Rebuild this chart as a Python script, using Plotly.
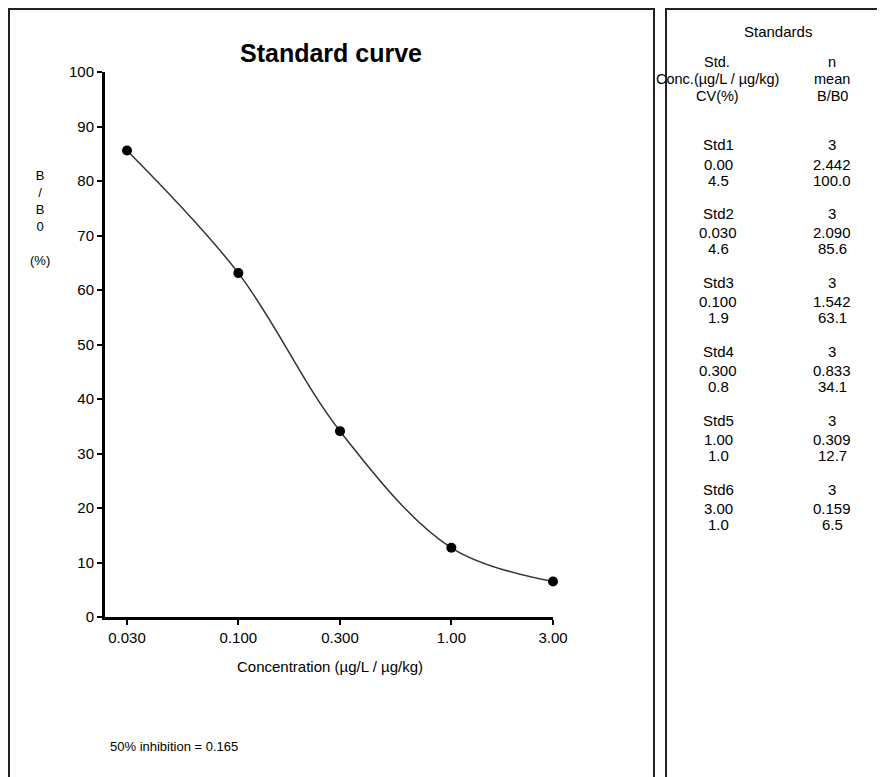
import numpy as np
import plotly.graph_objects as go

# ---- data ----
conc = [0.03, 0.1, 0.3, 1.0, 3.0]
bb0 = [85.6, 63.1, 34.1, 12.7, 6.5]
x_tick_vals = [0.03, 0.1, 0.3, 1.0, 3.0]
x_tick_text = ["0.030", "0.100", "0.300", "1.00", "3.00"]
y_tick_vals = [0, 10, 20, 30, 40, 50, 60, 70, 80, 90, 100]

std_names = ["Std1", "Std2", "Std3", "Std4", "Std5", "Std6"]
std_conc = ["0.00", "0.030", "0.100", "0.300", "1.00", "3.00"]
std_cv = ["4.5", "4.6", "1.9", "0.8", "1.0", "1.0"]
std_n = ["3", "3", "3", "3", "3", "3"]
std_mean = ["2.442", "2.090", "1.542", "0.833", "0.309", "0.159"]
std_bb0 = ["100.0", "85.6", "63.1", "34.1", "12.7", "6.5"]
inhibition50 = "0.165"

# ---- layout geometry (pixels, page has an 8px body margin) ----
OFF = 8
W, H = 885 - OFF, 777 - OFF
L, R, T, B = 105 - OFF, 553 - OFF, 72 - OFF, 617 - OFF
FONT = "Liberation Sans, Arial, sans-serif"


def px(x):
    return (x - OFF - L) / (R - L)


def py(y):
    return (B - (y - OFF)) / (B - T)


fig = go.Figure()
fig.add_trace(go.Scatter(
    x=conc, y=bb0, mode="lines",
    line=dict(color="#333333", width=1.5, shape="spline", smoothing=1.0),
    hoverinfo="skip", showlegend=False, cliponaxis=False,
))
fig.add_trace(go.Scatter(
    x=conc, y=bb0, mode="markers",
    marker=dict(color="black", size=10),
    showlegend=False, cliponaxis=False,
))

dec = (np.log10(3.0) - np.log10(0.03)) / (553 - 127)
xr = [np.log10(0.03) - (127 - 105) * dec, np.log10(3.0)]

fig.update_xaxes(
    type="log", range=xr, tickvals=x_tick_vals, ticktext=x_tick_text,
    showline=True, linecolor="black", linewidth=3, ticks="outside",
    ticklen=5, tickwidth=2, tickcolor="black", showgrid=False, zeroline=False,
    tickfont=dict(family=FONT, size=15, color="black"),
)
fig.update_yaxes(
    range=[0, 100], tickvals=y_tick_vals,
    showline=True, linecolor="black", linewidth=3, ticks="outside",
    ticklen=5, tickwidth=2, tickcolor="black", showgrid=False, zeroline=False,
    tickfont=dict(family=FONT, size=15, color="black"),
)

ann = []
ann.append(dict(text="<b>Standard curve</b>", x=px(331), y=py(53),
                font=dict(size=25)))
ann.append(dict(text="Concentration (µg/L / µg/kg)", x=px(330), y=py(666),
                font=dict(size=15)))
ann.append(dict(text="B<br>/<br>B<br>0<br><br>(%)", x=px(40), y=py(218),
                font=dict(size=13)))
ann.append(dict(text="50% inhibition = " + inhibition50, x=px(108), y=py(746),
                xanchor="left", font=dict(size=13)))

# right table
FS = 15
ann.append(dict(text="Standards", x=px(778), y=py(31), font=dict(size=FS)))
for txt, yy in zip(["Std.", "Conc.(µg/L / µg/kg)", "CV(%)"], [62, 79, 96]):
    ann.append(dict(text=txt, x=px(717), y=py(yy), font=dict(size=14.5)))
for txt, yy in zip(["n", "mean", "B/B0"], [62, 79, 96]):
    ann.append(dict(text=txt, x=px(832), y=py(yy), font=dict(size=14.5)))

for i in range(len(std_names)):
    y0 = 145 + i * 68.8
    ann.append(dict(text=std_names[i], x=px(718), y=py(y0), font=dict(size=FS)))
    ann.append(dict(text=std_conc[i], x=px(718), y=py(y0 + 19), font=dict(size=FS)))
    ann.append(dict(text=std_cv[i], x=px(718), y=py(y0 + 35), font=dict(size=FS)))
    ann.append(dict(text=std_n[i], x=px(832), y=py(y0), font=dict(size=FS)))
    ann.append(dict(text=std_mean[i], x=px(832), y=py(y0 + 19), font=dict(size=FS)))
    ann.append(dict(text=std_bb0[i], x=px(832), y=py(y0 + 35), font=dict(size=FS)))

for a in ann:
    a.setdefault("xanchor", "center")
    a["yanchor"] = "middle"
    a["xref"] = "paper"
    a["yref"] = "paper"
    a["showarrow"] = False
    f = a.get("font", {})
    f.setdefault("family", FONT)
    f.setdefault("color", "black")
    a["font"] = f

shapes = [
    dict(type="rect", xref="paper", yref="paper",
         x0=px(9), x1=px(654), y0=py(800), y1=py(9),
         line=dict(color="#222222", width=2)),
    dict(type="rect", xref="paper", yref="paper",
         x0=px(666), x1=px(900), y0=py(800), y1=py(9),
         line=dict(color="#222222", width=2)),
]

fig.update_layout(
    width=W, height=H,
    margin=dict(l=L, r=W - R, t=T, b=H - B, pad=0),
    paper_bgcolor="white", plot_bgcolor="white",
    annotations=ann, shapes=shapes,
    font=dict(family=FONT, color="black"),
    showlegend=False,
)

fig.write_html("out.html")
